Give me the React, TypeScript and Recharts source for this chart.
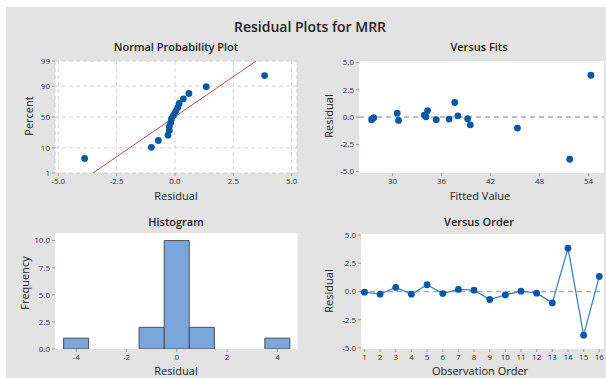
import React from "react";
import {
  ScatterChart,
  Scatter,
  LineChart,
  Line,
  BarChart,
  Bar,
  XAxis,
  YAxis,
  CartesianGrid,
  ReferenceLine,
  ReferenceArea,
} from "recharts";

// observation data
const order = [1, 2, 3, 4, 5, 6, 7, 8, 9, 10, 11, 12, 13, 14, 15, 16];
const residuals = [-0.06, -0.24, 0.36, -0.24, 0.6, -0.18, 0.18, 0.12, -0.71, -0.3, 0.03, -0.15, -1.01, 3.84, -3.87, 1.34];
const fitted = [27.7, 27.44, 30.58, 35.36, 34.3, 36.93, 33.9, 38.0, 39.53, 30.74, 34.1, 39.2, 45.3, 54.3, 51.7, 37.63];

// histogram
const histBins = [-4, -3, -2, -1, 0, 1, 2, 3, 4];
const histCounts = [1, 0, 0, 2, 10, 2, 0, 0, 1];

// ticks
const nppXTicks = [-5, -2.5, 0, 2.5, 5];
const nppPctTicks = [1, 10, 50, 90, 99];
const residTicks = [-5, -2.5, 0, 2.5, 5];
const fitsXTicks = [30, 36, 42, 48, 54];
const histYTicks = [0, 2.5, 5, 7.5, 10];

const FONT = "'Open Sans', 'Noto Sans', sans-serif";
const DOT = "#0b57a6";
const FRAME = "#b4b4b4";
const TICK = { fontSize: 8, fill: "#333", fontFamily: FONT };

// inverse normal cdf (Acklam)
function probit(p: number): number {
  const a = [-39.69683028665376, 220.9460984245205, -275.9285104469687, 138.357751867269, -30.66479806614716, 2.506628277459239];
  const b = [-54.47609879822406, 161.5858368580409, -155.6989798598866, 66.80131188771875, -13.28068155288585];
  const c = [-0.007784894002430293, -0.3223964580411365, -2.400758277161838, -2.549732539343734, 4.374664141464968, 2.938163982698783];
  const d = [0.007784695709041462, 0.3224671290700398, 2.445134137142996, 3.754408661907416];
  const pl = 0.02425;
  if (p < pl) {
    const q = Math.sqrt(-2 * Math.log(p));
    return (((((c[0] * q + c[1]) * q + c[2]) * q + c[3]) * q + c[4]) * q + c[5]) / ((((d[0] * q + d[1]) * q + d[2]) * q + d[3]) * q + 1);
  }
  if (p > 1 - pl) {
    return -probit(1 - p);
  }
  const q = p - 0.5;
  const r = q * q;
  return ((((((a[0] * r + a[1]) * r + a[2]) * r + a[3]) * r + a[4]) * r + a[5]) * q) / (((((b[0] * r + b[1]) * r + b[2]) * r + b[3]) * r + b[4]) * r + 1);
}

const n = residuals.length;
const sorted = [...residuals].sort((x, y) => x - y);
const nppData = sorted.map((r, i) => ({ resid: r, z: probit((i + 1 - 0.3) / (n + 0.4)) }));
const mean = residuals.reduce((s, v) => s + v, 0) / n;
const sd = Math.sqrt(residuals.reduce((s, v) => s + (v - mean) ** 2, 0) / (n - 1));
const zLo = probit(0.01);
const zHi = probit(0.99);
const nppYTicks = nppPctTicks.map((p) => probit(p / 100));

const fitsData = fitted.map((f, i) => ({ fit: f, resid: residuals[i] }));
const orderData = order.map((o, i) => ({ order: o, resid: residuals[i] }));
const histData = histBins.map((b, i) => ({ bin: b, count: histCounts[i] }));

const Dot = (p: any) => <circle cx={p.cx} cy={p.cy} r={3.4} fill={DOT} />;

const Txt = ({ x, y, size, children, weight = 400, rotate = false }: any) => (
  <div
    style={{
      position: "absolute",
      left: x,
      top: y,
      transform: `translate(-50%, -50%)${rotate ? " rotate(-90deg)" : ""}`,
      fontSize: size,
      fontWeight: weight,
      fontFamily: FONT,
      color: "#222",
      whiteSpace: "nowrap",
      lineHeight: 1,
    }}
  >
    {children}
  </div>
);

const Box = ({ left, top, children }: any) => (
  <div style={{ position: "absolute", left, top }}>{children}</div>
);

export default function App() {
  return (
    <div style={{ position: "absolute", left: 0, top: 0, width: 606, height: 378, background: "#fff", overflow: "hidden" }}>
      <div style={{ position: "absolute", left: 6, top: 7, width: 600, height: 371, background: "#e3e3e3" }} />

      <Txt x={310} y={27} size={14} weight={600}>Residual Plots for MRR</Txt>
      <Txt x={176} y={46} size={11} weight={600}>Normal Probability Plot</Txt>
      <Txt x={479} y={46} size={11} weight={600}>Versus Fits</Txt>
      <Txt x={176} y={221} size={11} weight={600}>Histogram</Txt>
      <Txt x={479} y={221} size={11} weight={600}>Versus Order</Txt>

      <Txt x={176} y={195} size={11}>Residual</Txt>
      <Txt x={480} y={195} size={11}>Fitted Value</Txt>
      <Txt x={176} y={370} size={11}>Residual</Txt>
      <Txt x={480} y={370} size={11}>Observation Order</Txt>
      <Txt x={28} y={116} size={11} rotate>Percent</Txt>
      <Txt x={328} y={116} size={11} rotate>Residual</Txt>
      <Txt x={24} y={283} size={11} rotate>Frequency</Txt>
      <Txt x={328} y={291} size={11} rotate>Residual</Txt>

      {/* Normal probability plot */}
      <Box left={0} top={50}>
        <ScatterChart width={303} height={150} margin={{ top: 11, right: 6, bottom: 11, left: 15 }}>
          <CartesianGrid fill="#fff" stroke="#d4d4d4" strokeDasharray="4 3" />
          <XAxis
            type="number"
            dataKey="resid"
            domain={[-5.14, 5.23]}
            ticks={nppXTicks}
            allowDataOverflow
            height={16}
            tickSize={3}
            axisLine={false}
            tickLine={{ stroke: "#999" }}
            tick={TICK}
            tickFormatter={(v: number) => v.toFixed(1)}
          />
          <YAxis
            type="number"
            dataKey="z"
            domain={[zLo, zHi]}
            ticks={nppYTicks}
            allowDataOverflow
            width={40}
            tickSize={3}
            axisLine={false}
            tickLine={{ stroke: "#999" }}
            tick={TICK}
            tickFormatter={(v: number) => String(nppPctTicks[nppYTicks.findIndex((t) => Math.abs(t - v) < 1e-6)])}
          />
          <ReferenceLine
            segment={[
              { x: mean + sd * zLo, y: zLo },
              { x: mean + sd * zHi, y: zHi },
            ]}
            stroke="#c0504d"
            strokeWidth={1}
          />
          <ReferenceArea fill="none" stroke={FRAME} />
          <Scatter data={nppData} shape={Dot} isAnimationActive={false} />
        </ScatterChart>
      </Box>

      {/* Versus fits */}
      <Box left={303} top={50}>
        <ScatterChart width={303} height={150} margin={{ top: 11, right: 2, bottom: 11, left: 16 }}>
          <CartesianGrid fill="#fff" horizontal={false} vertical={false} />
          <XAxis
            type="number"
            dataKey="fit"
            domain={[25.9, 55.9]}
            ticks={fitsXTicks}
            allowDataOverflow
            height={16}
            tickSize={3}
            axisLine={false}
            tickLine={{ stroke: "#999" }}
            tick={TICK}
          />
          <YAxis
            type="number"
            dataKey="resid"
            domain={[-5.13, 5.15]}
            ticks={residTicks}
            allowDataOverflow
            width={40}
            tickSize={3}
            axisLine={false}
            tickLine={{ stroke: "#999" }}
            tick={TICK}
            tickFormatter={(v: number) => v.toFixed(1)}
          />
          <ReferenceLine y={0} stroke="#aaa" strokeDasharray="5 4" strokeWidth={1.5} />
          <ReferenceArea fill="none" stroke={FRAME} />
          <Scatter data={fitsData} shape={Dot} isAnimationActive={false} />
        </ScatterChart>
      </Box>

      {/* Histogram */}
      <Box left={0} top={222}>
        <BarChart width={303} height={150} data={histData} barCategoryGap={0} margin={{ top: 11, right: 5.5, bottom: 7, left: 15 }}>
          <CartesianGrid fill="#fff" horizontal={false} vertical={false} />
          <XAxis
            dataKey="bin"
            padding={{ left: 8.6, right: 7.5 }}
            interval={1}
            height={16}
            tickSize={3}
            axisLine={false}
            tickLine={{ stroke: "#999" }}
            tick={TICK}
          />
          <YAxis
            type="number"
            domain={[0, 10.7]}
            ticks={histYTicks}
            allowDataOverflow
            width={40}
            tickSize={3}
            axisLine={false}
            tickLine={{ stroke: "#999" }}
            tick={TICK}
            tickFormatter={(v: number) => v.toFixed(1)}
          />
          <Bar dataKey="count" fill="#7ba6da" stroke="#4f4f4f" strokeWidth={1} isAnimationActive={false} />
          <ReferenceArea fill="none" stroke={FRAME} />
        </BarChart>
      </Box>

      {/* Versus order */}
      <Box left={303} top={222}>
        <LineChart width={303} height={150} data={orderData} margin={{ top: 12, right: 2, bottom: 7, left: 18 }}>
          <CartesianGrid fill="#fff" horizontal={false} vertical={false} />
          <XAxis
            type="number"
            dataKey="order"
            domain={[0.78, 16.3]}
            ticks={order}
            allowDataOverflow
            height={16}
            tickSize={3}
            axisLine={false}
            tickLine={{ stroke: "#999" }}
            tick={TICK}
          />
          <YAxis
            type="number"
            domain={[-5.1, 5.1]}
            ticks={residTicks}
            allowDataOverflow
            width={40}
            tickSize={3}
            axisLine={false}
            tickLine={{ stroke: "#999" }}
            tick={TICK}
            tickFormatter={(v: number) => v.toFixed(1)}
          />
          <ReferenceLine y={0} stroke="#aaa" strokeDasharray="5 4" strokeWidth={1.5} />
          <ReferenceArea fill="none" stroke={FRAME} />
          <Line
            dataKey="resid"
            stroke="#3f83cc"
            strokeWidth={1.3}
            dot={{ r: 3.4, fill: DOT, stroke: DOT, strokeWidth: 0 }}
            isAnimationActive={false}
          />
        </LineChart>
      </Box>
    </div>
  );
}
